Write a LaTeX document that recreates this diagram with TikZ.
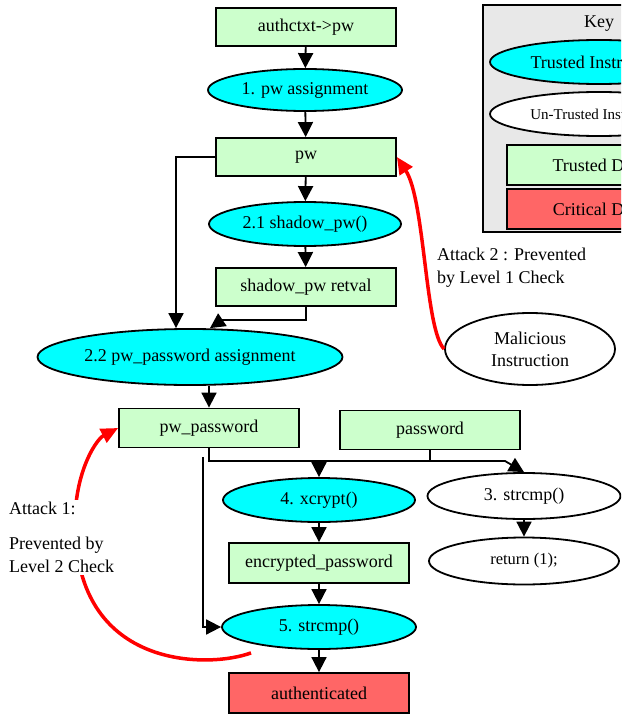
\documentclass[tikz,border=0pt]{standalone}
\usepackage{fontspec}
\setmainfont{Liberation Serif}
\usetikzlibrary{arrows.meta,shapes.geometric}
\definecolor{datagreen}{HTML}{CCFFCC}
\definecolor{instrcyan}{HTML}{00FFFF}
\definecolor{critred}{HTML}{FF6666}
\definecolor{keygray}{HTML}{E8E8E8}

\begin{document}
\begin{tikzpicture}[x=1pt,y=-1pt,
    font=\fontsize{18}{23}\selectfont,
    data/.style={draw,line width=1.8pt,fill=datagreen,minimum width=180pt,minimum height=38pt,inner sep=0pt},
    crit/.style={data,fill=critred,minimum height=40pt},
    trusted/.style={ellipse,draw,line width=1.8pt,fill=instrcyan,inner sep=0pt,minimum height=44pt},
    untrusted/.style={trusted,fill=white},
    flow/.style={line width=1.8pt,-{Triangle[length=15pt,width=15pt]}},
    attack/.style={line width=3.5pt,red,-{Triangle[length=17pt,width=15pt]}},
    note/.style={align=left,inner sep=2pt}]
  \useasboundingbox (0,0) rectangle (621,714);
  \clip (0,0) rectangle (621,714);

  % main flow
  \node[data] (ctx) at (306,27) {authctxt->pw};
  \node[trusted,minimum width=194pt,minimum height=42pt] (asgn) at (305,90) {1. pw assignment};
  \node[data] (pw) at (306,157) {pw};
  \node[trusted,minimum width=192pt] (shadow) at (305,224) {2.1 shadow\_pw()};
  \node[data] (retval) at (306,287) {shadow\_pw retval};
  \node[trusted,minimum width=305pt,minimum height=56pt] (pwasgn) at (190,357) {2.2 pw\_password assignment};
  \node[data,minimum height=39pt] (pwpass) at (209,428) {pw\_password};
  \node[data,minimum height=39pt] (passwd) at (430,430) {password};
  \node[trusted,minimum width=192pt] (xcrypt) at (319,500) {4. xcrypt()};
  \node[data,minimum height=40pt] (encpw) at (319,563) {encrypted\_password};
  \node[trusted,minimum width=194pt] (cmpfive) at (319,627) {5. strcmp()};
  \node[crit] (auth) at (319,693) {authenticated};

  % untrusted side
  \node[untrusted,minimum width=193pt,minimum height=46pt] (cmpthree) at (524,496) {3. strcmp()};
  \node[untrusted,minimum width=190pt,minimum height=47pt,font=\fontsize{16.5}{20}\selectfont] (ret) at (524,561) {return (1);};
  \node[untrusted,minimum width=170pt,minimum height=72pt,align=center,font=\fontsize{18}{22}\selectfont] (mal) at (530,349) {Malicious\\Instruction};

  % key
  \node[draw,line width=1.8pt,fill=keygray,minimum width=232pt,minimum height=227pt] (key) at (599,118.5) {};
  \node (keytitle) at (599,24) {Key};
  \node[trusted,minimum width=218pt] (keyti) at (599,62) {Trusted Instruction};
  \node[untrusted,minimum width=218pt,font=\fontsize{15}{18}\selectfont] (keyui) at (599,114) {Un-Trusted Instruction};
  \node[data,minimum width=184pt,minimum height=40pt] (keytd) at (599,165) {Trusted Data};
  \node[crit,minimum width=184pt] (keycd) at (599,209) {Critical Data};

  \coordinate (bend) at (222,320);
  \coordinate (bus) at (0,461);
  \coordinate (busend) at (505,461);
  \coordinate (tap) at (203,457);

  \draw[flow] (ctx) -- (asgn);
  \draw[flow] (asgn) -- (pw);
  \draw[flow] (pw) -- (shadow);
  \draw[flow] (shadow) -- (retval);
  \draw[flow] (pw.west) -| ([xshift=-14pt]pwasgn.north);
  \draw[flow] (retval.south) |- (bend) -- ([xshift=20pt]pwasgn.north);
  \draw[flow] (pwpass.north |- pwasgn.south) -- (pwpass.north);
  \draw[flow] (pwpass.south) |- (xcrypt.north |- bus) -- (xcrypt.north);
  \draw[flow] (pwpass.south) |- (busend) -- (cmpthree.north);
  \draw[line width=1.8pt] (passwd.south) -- (passwd.south |- bus);
  \draw[flow] (tap) |- (cmpfive.west);
  \draw[flow] (xcrypt) -- (encpw);
  \draw[flow] (encpw) -- (cmpfive);
  \draw[flow] (cmpfive) -- (auth);
  \draw[flow] (cmpthree) -- (ret);

  % attacks
  \draw[attack] (mal.west) .. controls (425,330) and (425,200) .. (pw.east);
  \node[note,anchor=north west] (atktwo) at (435,246) {Attack 2 : Prevented\\by Level 1 Check};
  \draw[attack] ([xshift=-68pt,yshift=-3pt]cmpfive.south) .. controls (210,668) and (85,670) .. (76,540)
    .. controls (70,480) and (95,440) .. (pwpass.west);
  \node[note,fill=white,anchor=north west] (atkone) at (7,500) {Attack 1:\\[12pt]Prevented by\\Level 2 Check};
\end{tikzpicture}
\end{document}
